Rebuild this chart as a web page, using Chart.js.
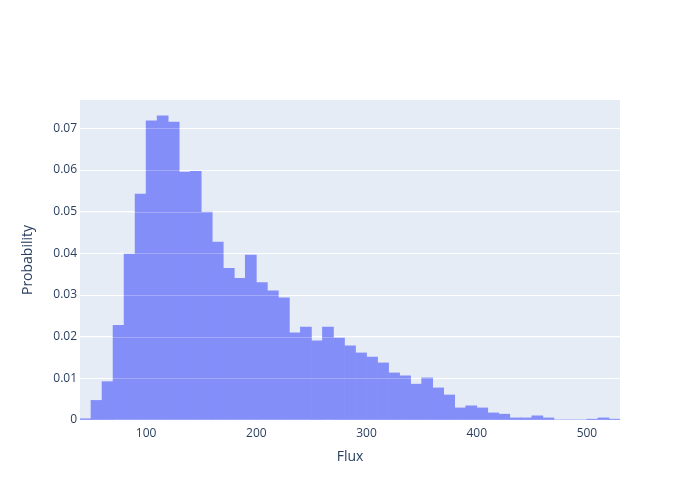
<!DOCTYPE html>
<html lang="en">
<head>
    <meta charset="UTF-8">
    <title>Flux histogram</title>
    <script src="https://cdn.jsdelivr.net/npm/chart.js"></script>
    <style>
        html, body { margin: 0; padding: 0; background: #fff; }
        #wrap { width: 700px; height: 500px; }
    </style>
</head>
<body>
    <div id="wrap"><canvas id="fluxChart" width="700" height="500"></canvas></div>

    <script>
        // histogram bins: start of each 10-wide bin, and the probability
        const binStarts = [40, 50, 60, 70, 80, 90, 100, 110, 120, 130, 140, 150, 160, 170, 180, 190,
            200, 210, 220, 230, 240, 250, 260, 270, 280, 290, 300, 310, 320, 330, 340, 350,
            360, 370, 380, 390, 400, 410, 420, 430, 440, 450, 460, 470, 480, 490, 500, 510, 520];
        const binWidth = 10;
        const probabilities = [0.0003, 0.0047, 0.0092, 0.0227, 0.0398, 0.0542, 0.0718, 0.0730, 0.0715,
            0.0595, 0.0597, 0.0499, 0.0427, 0.0364, 0.0340, 0.0396,
            0.0330, 0.0310, 0.0293, 0.0209, 0.0223, 0.0190, 0.0223, 0.0197, 0.0178, 0.0161,
            0.0151, 0.0137, 0.0113, 0.0106, 0.0086, 0.0101,
            0.0077, 0.0060, 0.0029, 0.0034, 0.0029, 0.0017, 0.0014, 0.0005, 0.0005, 0.0010,
            0.0005, 0, 0, 0, 0.0002, 0.0005, 0.0002];
        const xTicks = [100, 200, 300, 400, 500];
        const xRange = [40, 530];
        const yMax = 0.0768;

        const textColor = '#2a3f5f';
        const fontFamily = '"Open Sans", verdana, arial, sans-serif';
        // bar colour already blended with the plot background, so neighbouring bars show no seams
        const barColor = 'rgb(132, 142, 249)';

        const plotBackground = {
            id: 'plotBackground',
            beforeDraw(chart) {
                const { ctx, chartArea } = chart;
                ctx.save();
                ctx.fillStyle = '#e5ecf6';
                ctx.fillRect(chartArea.left, chartArea.top, chartArea.right - chartArea.left, chartArea.bottom - chartArea.top);
                ctx.restore();
            }
        };

        // faint grid lines showing through the (semi-transparent looking) bars
        const gridOverlay = {
            id: 'gridOverlay',
            afterDatasetsDraw(chart) {
                const { ctx, chartArea, scales } = chart;
                ctx.save();
                ctx.strokeStyle = 'rgba(255, 255, 255, 0.25)';
                ctx.lineWidth = 1;
                scales.y.ticks.forEach(t => {
                    const y = Math.round(scales.y.getPixelForValue(t.value)) + 0.5;
                    ctx.beginPath();
                    ctx.moveTo(chartArea.left, y);
                    ctx.lineTo(chartArea.right, y);
                    ctx.stroke();
                });
                ctx.restore();
            }
        };

        const points = binStarts.map((s, i) => ({ x: s + binWidth / 2, y: probabilities[i] }));

        new Chart(document.getElementById('fluxChart').getContext('2d'), {
            type: 'bar',
            data: {
                datasets: [{
                    label: 'Flux',
                    data: points,
                    backgroundColor: barColor,
                    borderWidth: 0,
                    barPercentage: 1,
                    categoryPercentage: 1
                }]
            },
            plugins: [plotBackground, gridOverlay],
            options: {
                responsive: false,
                animation: false,
                layout: { padding: { top: 100, right: 80, bottom: 0, left: 0 } },
                plugins: {
                    legend: { display: false },
                    tooltip: { enabled: false }
                },
                scales: {
                    x: {
                        type: 'linear',
                        min: xRange[0],
                        max: xRange[1],
                        offset: false,
                        grid: { display: false, drawTicks: false },
                        border: { display: false },
                        afterBuildTicks: axis => { axis.ticks = xTicks.map(v => ({ value: v })); },
                        afterFit: axis => { axis.height = 80; },
                        ticks: {
                            padding: 6,
                            maxRotation: 0,
                            autoSkip: false,
                            color: textColor,
                            font: { family: fontFamily, size: 12 }
                        },
                        title: {
                            display: true,
                            text: 'Flux',
                            color: textColor,
                            font: { family: fontFamily, size: 14 },
                            padding: { top: 0, bottom: 35 }
                        }
                    },
                    y: {
                        min: 0,
                        max: yMax,
                        grid: { color: '#ffffff', lineWidth: 1, drawTicks: false },
                        border: { display: false },
                        afterFit: axis => { axis.width = 80; },
                        ticks: {
                            stepSize: 0.01,
                            includeBounds: false,
                            padding: 3,
                            color: textColor,
                            font: { family: fontFamily, size: 12 },
                            callback: v => v === 0 ? '0' : v.toFixed(2)
                        },
                        title: {
                            display: true,
                            text: 'Probability',
                            color: textColor,
                            font: { family: fontFamily, size: 14 },
                            padding: { top: 20, bottom: 0 }
                        }
                    }
                }
            }
        });
    </script>
</body>
</html>
